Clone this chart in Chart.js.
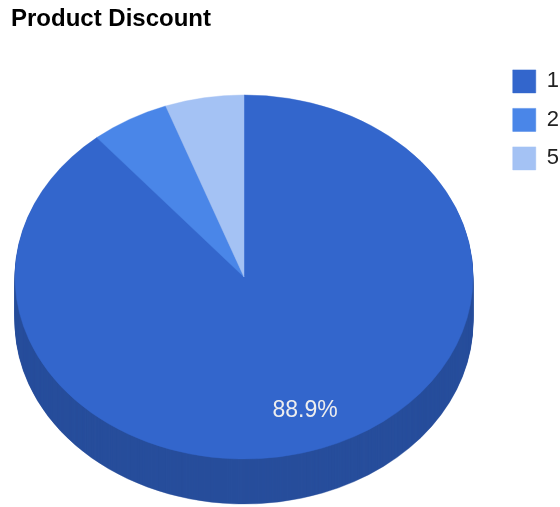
<!DOCTYPE html>
<html>
<head>
<meta charset="utf-8">
<title>Product Discount</title>
<script src="https://cdn.jsdelivr.net/npm/chart.js@4/dist/chart.umd.min.js"></script>
<style>
  html, body { margin:0; padding:0; background:#fff; }
  #wrap { width:560px; height:507px; }
</style>
</head>
<body>
<div id="wrap"><canvas id="chartPie" width="560" height="507"></canvas></div>
<script>
/* -------- data -------- */
const LABELS      = ['1', '2', '5'];          // discount level
const COUNTS      = [16, 1, 1];               // products per level
const TOP_COLORS  = ['#3366cc', '#4a86e8', '#a4c2f4'];
const SIDE_COLORS = ['#274e9c', '#3766b5', '#7d95bd'];

/* -------- 3d projection of the pie -------- */
const PIE = { cx:244, cy:277, rx:229, ry:182, depth:45, labelAt:0.78 };
const font = 'Arial, "Liberation Sans", sans-serif';

// map the library's circle onto the tilted ellipse, dy pixels lower
function toEllipse(ctx, arc, dy) {
  const r = arc.outerRadius;
  ctx.translate(PIE.cx, PIE.cy + dy);
  ctx.scale(PIE.rx / r, PIE.ry / r);
  ctx.translate(-arc.x, -arc.y);
}

const pie3d = {
  id: 'pie3d',
  beforeDatasetsDraw(chart) {
    const ctx  = chart.ctx;
    const arcs = chart.getDatasetMeta(0).data;
    // extruded side: the same slices, darker, stacked downwards
    for (let dy = PIE.depth; dy > 0; dy--) {
      ctx.save();
      toEllipse(ctx, arcs[0], dy);
      arcs.forEach((a, i) => {
        const side = Object.create(a);
        side.options = Object.assign({}, a.options, {
          backgroundColor: SIDE_COLORS[i], borderColor: SIDE_COLORS[i] });
        side.draw(ctx);
      });
      ctx.restore();
    }
    ctx.save();
    toEllipse(ctx, arcs[0], 0);
  },
  afterDatasetsDraw(chart) {
    const ctx  = chart.ctx;
    ctx.restore();
    const arcs  = chart.getDatasetMeta(0).data;
    const total = COUNTS.reduce((a, b) => a + b, 0);
    ctx.save();
    ctx.font = '23px ' + font;
    ctx.fillStyle = '#eeeeee';
    ctx.textAlign = 'center';
    ctx.textBaseline = 'middle';
    arcs.forEach((a, i) => {
      const pct = COUNTS[i] / total * 100;
      if (pct < 10) return;
      const mid = (a.startAngle + a.endAngle) / 2;
      const x = PIE.cx + Math.cos(mid) * PIE.rx * PIE.labelAt;
      const y = PIE.cy + Math.sin(mid) * PIE.ry * PIE.labelAt;
      ctx.fillText(pct.toFixed(1) + '%', x, y);
    });
    ctx.restore();
  },
};

new Chart(document.getElementById('chartPie'), {
  type: 'pie',
  data: {
    labels: LABELS,
    datasets: [{
      data: COUNTS,
      backgroundColor: TOP_COLORS,
      borderColor: TOP_COLORS,
      borderWidth: 0.5,
      hoverOffset: 0,
      clip: false,
    }],
  },
  options: {
    responsive: false,
    animation: false,
    events: [],
    layout: { padding: { left: 11, right: -9, top: 0, bottom: 0 } },
    plugins: {
      tooltip: { enabled: false },
      title: {
        display: true, text: 'Product Discount', align: 'start', color: '#000',
        font: { family: font, size: 24, weight: 'bold' },
        padding: { top: 4.6, bottom: 21 },
      },
      legend: {
        position: 'right', align: 'start', fullSize: false,
        labels: {
          boxWidth: 23, boxHeight: 23, padding: 15.5, color: '#222',
          font: { family: font, size: 22 },
        },
      },
    },
  },
  plugins: [pie3d],
});
</script>
</body>
</html>
